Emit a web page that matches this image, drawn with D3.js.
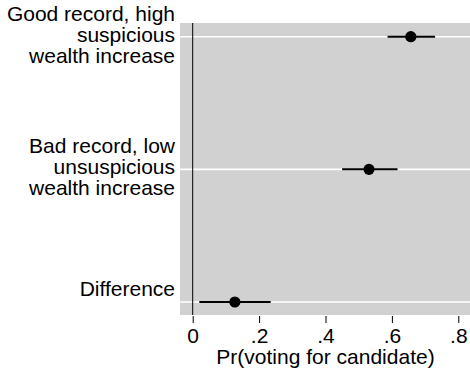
<!DOCTYPE html>
<html>
<head>
<meta charset="utf-8">
<script src="https://cdnjs.cloudflare.com/ajax/libs/d3/7.8.5/d3.min.js"></script>
<style>
  body { margin: 0; background: #fff; }
  svg { display: block; font-family: "Liberation Sans", Arial, sans-serif; }
</style>
</head>
<body>
<svg id="chart" width="470" height="372"></svg>
<script>
// data
const categories = ['good', 'bad', 'diff'];
const labels = [
  ['Good record, high', 'suspicious', 'wealth increase'],
  ['Bad record, low', 'unsuspicious', 'wealth increase'],
  ['Difference']
];
const estimates = [0.657, 0.531, 0.127];
const lower = [0.587, 0.450, 0.020];
const upper = [0.730, 0.617, 0.235];
const xTicks = [0, 0.2, 0.4, 0.6, 0.8];
const xTickLabels = ['0', '.2', '.4', '.6', '.8'];
const xTitle = 'Pr(voting for candidate)';

const svg = d3.select('#chart');

const plot = { left: 180, right: 470, top: 23, bottom: 315 };
const fontSize = 21;

const x = d3.scaleLinear().domain([0, 0.8]).range([192.7, 458.3]);
const y = d3.scalePoint().domain(categories).range([36.7, 302]);

// gray plot region
svg.append('rect')
  .attr('x', plot.left)
  .attr('y', plot.top)
  .attr('width', plot.right - plot.left)
  .attr('height', plot.bottom - plot.top)
  .attr('fill', '#d1d1d1');

// white horizontal grid lines at each category
svg.selectAll('.grid')
  .data(categories)
  .enter()
  .append('line')
  .attr('class', 'grid')
  .attr('x1', plot.left)
  .attr('x2', plot.right)
  .attr('y1', d => y(d))
  .attr('y2', d => y(d))
  .attr('stroke', '#fff')
  .attr('stroke-width', 1.6);

// reference line at zero
svg.append('line')
  .attr('x1', x(0)).attr('x2', x(0))
  .attr('y1', plot.top).attr('y2', plot.bottom)
  .attr('stroke', '#000')
  .attr('stroke-width', 1);

// x axis
const xAxis = d3.axisBottom(x)
  .tickValues(xTicks)
  .tickFormat((d, i) => xTickLabels[i])
  .tickSize(7);

const ax = svg.append('g')
  .attr('transform', `translate(0,${plot.bottom + 1})`)
  .call(xAxis);
ax.select('.domain').remove();
ax.selectAll('line').attr('stroke', '#000').attr('stroke-width', 1);
ax.selectAll('text')
  .attr('fill', '#000')
  .attr('y', 26.5)
  .attr('dy', 0)
  .style('font-size', fontSize + 'px')
  .style('font-family', '"Liberation Sans", Arial, sans-serif');

svg.append('text')
  .attr('x', x(0.4))
  .attr('y', 363.5)
  .attr('text-anchor', 'middle')
  .style('font-size', fontSize + 'px')
  .text(xTitle);

// confidence intervals
svg.selectAll('.ci')
  .data(categories)
  .enter()
  .append('line')
  .attr('class', 'ci')
  .attr('x1', (d, i) => x(lower[i]))
  .attr('x2', (d, i) => x(upper[i]))
  .attr('y1', d => y(d))
  .attr('y2', d => y(d))
  .attr('stroke', '#000')
  .attr('stroke-width', 2);

// point estimates
svg.selectAll('.pt')
  .data(categories)
  .enter()
  .append('circle')
  .attr('class', 'pt')
  .attr('cx', (d, i) => x(estimates[i]))
  .attr('cy', d => y(d))
  .attr('r', 5.6)
  .attr('fill', '#000');

// category labels
const lab = svg.selectAll('.lab')
  .data(categories)
  .enter()
  .append('text')
  .attr('class', 'lab')
  .attr('text-anchor', 'end')
  .style('font-size', fontSize + 'px')
  .attr('fill', '#000');

lab.each(function(d, i) {
  const lines = labels[i];
  const n = lines.length;
  const lh = 21;
  lines.forEach((t, j) => {
    const off = n === 1 ? -6 : (j - (n - 1) / 2) * lh + 5;
    d3.select(this).append('tspan')
      .attr('x', 175)
      .attr('y', y(d) + off)
      .text(t);
  });
});
</script>
</body>
</html>
